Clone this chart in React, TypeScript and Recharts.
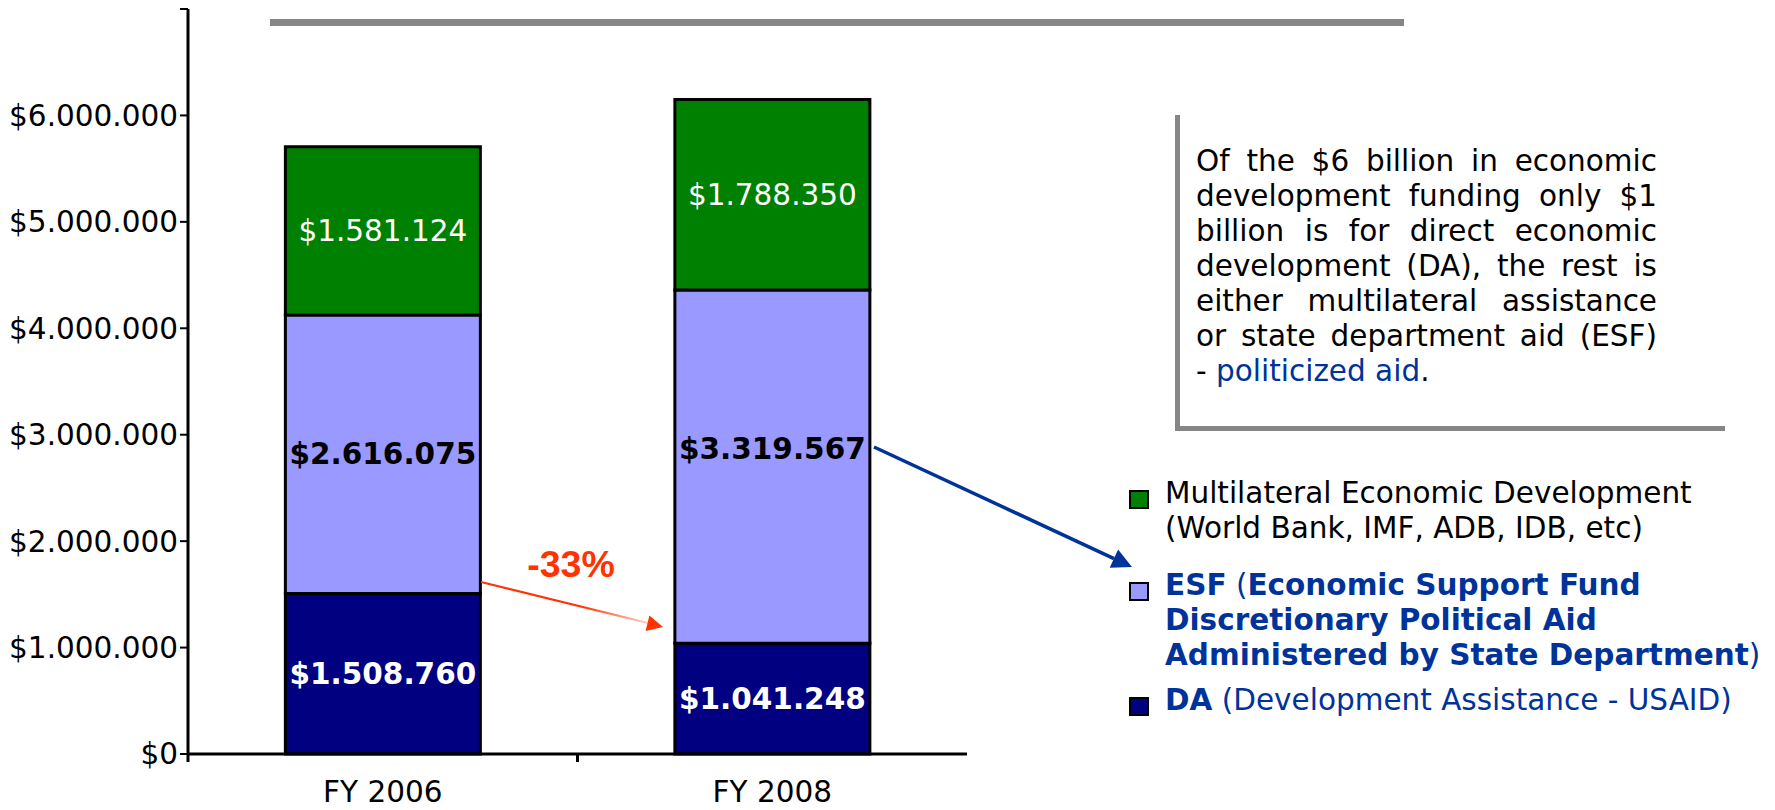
import React from 'react';
import { BarChart, Bar, XAxis, YAxis, LabelList, Legend } from 'recharts';

const categories = ['FY 2006', 'FY 2008'];
const daValues = [1508760, 1041248];
const esfValues = [2616075, 3319567];
const multiValues = [1581124, 1788350];
const yTicks = [0, 1000000, 2000000, 3000000, 4000000, 5000000, 6000000, 7000000];

const noteLines = [
  'Of the $6 billion in economic',
  'development funding only $1',
  'billion is for direct economic',
  'development (DA), the rest is',
  'either multilateral assistance',
  'or state department aid (ESF)',
];

const data = categories.map((year, i) => ({
  year,
  da: daValues[i],
  esf: esfValues[i],
  multi: multiValues[i],
}));

const FONT = "'DejaVu Sans', Verdana, sans-serif";
const FS = 29.5;
const BLUE = '#003399';
const W = 1775;
const H = 810;
const MARGIN = { top: 9, right: 808, bottom: 0, left: 0 };
const X_AXIS_H = 56;
const Y_AXIS_W = 188;
const BAND = (W - MARGIN.right - Y_AXIS_W) / categories.length;

const money = (v: number) => '$' + String(v).replace(/\B(?=(\d{3})+(?!\d))/g, '.');

function XTick(props: any) {
  const { x, y, payload, index } = props;
  return (
    <g>
      <text x={x} y={y + 48} textAnchor="middle" fontSize={FS} fontFamily={FONT} fill="#000">
        {payload.value}
      </text>
      {index === 0 && (
        <line x1={x - BAND / 2} x2={x - BAND / 2} y1={y} y2={y + 8} stroke="#000" strokeWidth={3} />
      )}
      {index < categories.length - 1 && (
        <line x1={x + BAND / 2} x2={x + BAND / 2} y1={y} y2={y + 8} stroke="#000" strokeWidth={3} />
      )}
    </g>
  );
}

const segLabel = (values: number[], color: string, weight: string, liftLast = 0) => (props: any) => {
  const { x, y, width, height, index } = props;
  const lift = index === values.length - 1 ? liftLast : 0;
  return (
    <text
      x={x + width / 2}
      y={y + height / 2 - lift}
      textAnchor="middle"
      dominantBaseline="central"
      fontSize={FS}
      fontWeight={weight}
      fontFamily={FONT}
      fill={color}
    >
      {money(values[index])}
    </text>
  );
};

const legendText: Record<string, React.ReactNode[]> = {
  multi: [
    <span key="a">Multilateral Economic Development</span>,
    <span key="b">(World Bank, IMF, ADB, IDB, etc)</span>,
  ],
  esf: [
    <span key="a" style={{ color: BLUE }}><b>ESF</b> (<b>Economic Support Fund</b></span>,
    <span key="b" style={{ color: BLUE }}><b>Discretionary Political Aid</b></span>,
    <span key="c" style={{ color: BLUE }}><b>Administered by State Department</b>)</span>,
  ],
  da: [
    <span key="a" style={{ color: BLUE }}><b>DA</b> (Development Assistance - USAID)</span>,
  ],
};
const legendOrder = ['multi', 'esf', 'da'];
const legendGaps = [22, 10, 0];

function LegendContent(props: any) {
  const payload = props.payload || [];
  return (
    <div style={{ fontFamily: FONT, fontSize: FS, lineHeight: '35px', color: '#000' }}>
      {legendOrder.map((key, i) => {
        const item = payload.find((p: any) => p.dataKey === key);
        return (
          <div key={key} style={{ display: 'flex', marginBottom: legendGaps[i] }}>
            <div
              style={{
                width: 16,
                height: 15,
                marginTop: 14,
                marginRight: 16,
                flex: 'none',
                background: item ? item.color : '#ccc',
                border: '2px solid #000',
              }}
            />
            <div style={{ whiteSpace: 'nowrap' }}>
              {legendText[key].map((line, j) => (
                <div key={j}>{line}</div>
              ))}
            </div>
          </div>
        );
      })}
    </div>
  );
}

export default function App() {
  return (
    <div style={{ position: 'relative', width: W, height: H, background: '#fff', overflow: 'hidden' }}>
      <style>{'body{margin:0}'}</style>
      <BarChart width={W} height={H} data={data} margin={MARGIN} barCategoryGap="25%">
        <XAxis
          dataKey="year"
          height={X_AXIS_H}
          axisLine={{ stroke: '#000', strokeWidth: 3 }}
          tickLine={false}
          tickSize={0}
          tickMargin={0}
          tick={<XTick />}
          interval={0}
        />
        <YAxis
          width={Y_AXIS_W}
          domain={[0, 7000000]}
          ticks={yTicks}
          interval={0}
          tickSize={8}
          axisLine={{ stroke: '#000', strokeWidth: 3 }}
          tickLine={{ stroke: '#000', strokeWidth: 2 }}
          tickFormatter={(v: number) => (v === 7000000 ? '' : money(v))}
          tick={{ fill: '#000', fontSize: FS, fontFamily: FONT }}
        />
        <Legend
          layout="horizontal"
          verticalAlign="middle"
          align="center"
          wrapperStyle={{ left: 1129, top: 476, width: 646, height: 260 }}
          content={<LegendContent />}
        />
        <Bar dataKey="da" name="DA" stackId="s" fill="#000080" stroke="#000" strokeWidth={3} isAnimationActive={false}>
          <LabelList dataKey="da" content={segLabel(daValues, '#fff', 'bold')} />
        </Bar>
        <Bar dataKey="esf" name="ESF" stackId="s" fill="#9999FF" stroke="#000" strokeWidth={3} isAnimationActive={false}>
          <LabelList dataKey="esf" content={segLabel(esfValues, '#000', 'bold', 18)} />
        </Bar>
        <Bar dataKey="multi" name="Multilateral" stackId="s" fill="#008000" stroke="#000" strokeWidth={3} isAnimationActive={false}>
          <LabelList dataKey="multi" content={segLabel(multiValues, '#fff', 'normal')} />
        </Bar>
      </BarChart>

      {/* title rule */}
      <div style={{ position: 'absolute', left: 270, top: 19, width: 1134, height: 7, background: '#868686' }} />

      {/* note box */}
      <div
        style={{
          position: 'absolute',
          left: 1175,
          top: 115,
          width: 545,
          height: 311,
          borderLeft: '5px solid #868686',
          borderBottom: '5px solid #868686',
        }}
      />
      <div
        style={{
          position: 'absolute',
          left: 1196,
          top: 144,
          width: 461,
          fontFamily: FONT,
          fontSize: FS,
          lineHeight: '35px',
          color: '#000',
        }}
      >
        {noteLines.map((line) => (
          <div key={line} style={{ textAlign: 'justify', textAlignLast: 'justify' }}>{line}</div>
        ))}
        <div>
          - <span style={{ color: BLUE }}>politicized aid</span>.
        </div>
      </div>

      {/* annotations */}
      <svg width={W} height={H} style={{ position: 'absolute', left: 0, top: 0, pointerEvents: 'none' }}>
        <defs>
          <linearGradient id="redFade" x1="0" y1="0" x2="1" y2="0">
            <stop offset="0" stopColor="#FF3300" />
            <stop offset="0.6" stopColor="#FF3300" />
            <stop offset="1" stopColor="#FFD2C4" />
          </linearGradient>
        </defs>
        <line x1={481} y1={582} x2={648} y2={623} stroke="url(#redFade)" strokeWidth={2} />
        <polygon points="663,627 649.4,615.4 645.6,631" fill="#FF3300" />
        <text x={571} y={577} textAnchor="middle" fontSize={37.5} fontWeight="bold" fontFamily="'Liberation Sans', Arial, sans-serif" fill="#FF3300">
          -33%
        </text>
        <line x1={874} y1={447} x2={1114} y2={558.6} stroke={BLUE} strokeWidth={3.5} />
        <polygon points="1132,567 1109.7,567.7 1118.1,549.5" fill={BLUE} />
      </svg>
    </div>
  );
}
